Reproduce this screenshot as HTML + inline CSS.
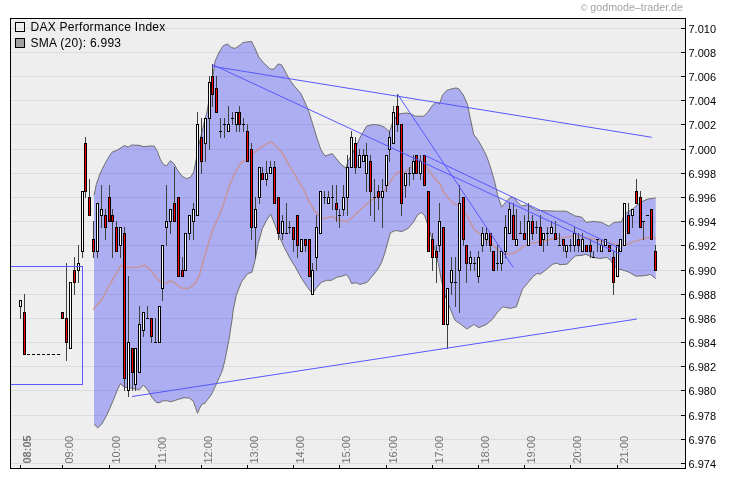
<!DOCTYPE html><html><head><meta charset="utf-8"><title>DAX Performance Index</title><style>html,body{margin:0;padding:0;background:#fff}body{width:730px;height:481px;position:relative;overflow:hidden}</style></head><body><svg width="730" height="481" viewBox="0 0 730 481" style="position:absolute;left:0;top:0">
<rect x="10" y="18" width="676" height="451" fill="#eeeeee"/>
<g fill="#dcdcdc" shape-rendering="crispEdges"><rect x="11" y="28" width="674" height="1"/><rect x="11" y="52" width="674" height="1"/><rect x="11" y="76" width="674" height="1"/><rect x="11" y="100" width="674" height="1"/><rect x="11" y="124" width="674" height="1"/><rect x="11" y="149" width="674" height="1"/><rect x="11" y="173" width="674" height="1"/><rect x="11" y="197" width="674" height="1"/><rect x="11" y="221" width="674" height="1"/><rect x="11" y="245" width="674" height="1"/><rect x="11" y="270" width="674" height="1"/><rect x="11" y="294" width="674" height="1"/><rect x="11" y="318" width="674" height="1"/><rect x="11" y="342" width="674" height="1"/><rect x="11" y="366" width="674" height="1"/><rect x="11" y="390" width="674" height="1"/><rect x="11" y="415" width="674" height="1"/><rect x="11" y="439" width="674" height="1"/><rect x="11" y="463" width="674" height="1"/></g>
<polygon points="94.0,195.3 96.3,184.5 99.5,175.0 102.6,168.3 107.8,158.5 112.0,152.2 117.1,150.2 124.4,145.6 128.2,147.0 131.7,145.0 140.0,145.4 143.1,146.6 150.0,146.0 154.2,146.0 157.3,151.2 160.4,159.5 163.5,164.7 166.6,165.8 170.4,160.6 173.9,163.7 178.1,171.0 182.2,176.2 186.4,178.7 190.6,177.2 193.7,172.0 195.8,161.6 198.9,145.0 202.0,132.0 204.5,121.0 206.8,113.0 209.5,97.0 212.0,82.0 215.1,61.2 219.3,51.8 223.4,45.6 227.6,44.1 231.8,47.7 235.3,48.3 240.1,45.0 243.2,42.5 251.5,41.4 254.7,47.7 258.8,57.0 264.0,63.3 270.3,69.1 274.0,69.1 278.2,63.9 281.7,65.0 284.8,70.6 289.0,78.9 295.2,87.2 300.5,93.0 304.2,100.6 308.3,110.0 312.5,123.4 316.6,137.0 320.8,149.5 325.0,156.1 332.2,153.6 336.4,158.8 340.6,163.9 345.8,168.1 348.3,160.8 356.2,146.3 360.3,137.0 366.6,126.2 372.8,124.5 379.0,125.0 384.3,127.0 389.5,131.8 392.6,122.4 397.8,114.1 406.1,113.0 410.3,113.7 415.5,116.2 423.8,116.2 427.9,112.0 432.1,105.8 436.3,102.2 439.4,104.1 442.5,95.2 446.6,90.4 450.8,89.1 456.0,87.9 459.1,89.1 463.3,95.0 467.4,104.3 470.6,119.9 473.7,134.5 477.8,139.7 482.0,147.0 486.2,155.3 489.3,163.6 491.5,170.7 494.6,181.5 497.5,194.8 501.6,207.2 505.9,201.8 510.1,197.7 513.2,197.1 517.4,201.8 521.5,206.0 527.8,205.0 536.1,210.2 546.5,210.8 556.9,211.2 566.3,211.2 574.6,215.8 581.8,217.2 586.0,222.4 593.3,221.4 601.6,222.4 608.9,226.2 614.1,222.4 621.4,221.8 624.5,214.1 632.8,208.9 640.1,202.6 647.4,199.1 655.7,197.9 655.7,278.7 650.5,274.5 643.2,275.8 635.9,276.2 628.6,272.0 622.4,269.9 617.2,268.9 613.0,264.7 611.0,260.6 606.8,257.4 599.5,258.5 591.2,257.0 586.0,254.3 581.8,255.4 575.6,255.8 571.4,259.5 567.3,264.1 560.0,264.7 556.9,263.1 552.7,264.2 546.5,269.4 540.3,274.1 537.1,273.5 533.0,276.6 527.8,282.9 522.6,289.1 519.5,297.4 516.3,306.8 510.1,308.3 502.8,306.8 497.6,312.0 492.4,319.3 486.2,324.5 478.9,327.6 473.7,324.5 467.0,329.0 461.2,324.5 455.0,320.3 449.8,307.8 445.0,295.0 441.4,280.0 438.3,263.2 435.6,252.0 432.0,239.0 429.0,229.0 426.9,222.0 424.8,215.9 421.7,212.4 417.5,214.9 413.4,222.2 408.2,228.4 401.9,231.5 395.7,230.5 390.5,232.6 388.4,240.0 384.7,253.3 381.5,262.6 377.4,269.9 372.2,276.2 367.0,282.4 359.7,284.5 356.6,282.8 351.4,283.4 349.3,278.2 346.2,274.5 342.0,276.2 336.8,277.2 331.6,280.3 326.4,280.3 321.2,282.4 316.0,288.6 312.5,293.8 307.7,287.6 301.4,278.2 295.2,266.8 290.0,258.5 284.2,247.4 280.0,238.0 274.8,224.6 270.7,214.2 266.5,220.4 262.3,228.7 258.2,243.3 255.1,260.0 251.9,272.4 247.8,273.5 241.5,281.8 236.3,295.3 233.2,310.0 232.2,318.7 229.0,339.5 224.9,360.3 222.5,370.0 219.4,377.3 215.2,386.6 211.1,395.0 207.9,399.1 204.8,403.3 201.7,404.3 199.6,408.5 197.5,413.3 195.5,407.4 193.4,401.2 189.2,398.1 184.0,397.7 177.8,399.5 170.5,401.8 167.4,400.8 163.2,400.8 159.0,402.9 155.9,402.2 151.8,397.0 147.6,389.8 143.4,385.0 139.3,389.8 136.2,389.1 132.0,388.3 123.7,387.0 120.6,383.5 117.4,389.8 113.3,400.2 107.0,414.7 101.8,424.1 97.7,427.8 94.0,424.2" fill="rgba(0,0,255,0.27)"/>
<polyline points="94.0,195.3 96.3,184.5 99.5,175.0 102.6,168.3 107.8,158.5 112.0,152.2 117.1,150.2 124.4,145.6 128.2,147.0 131.7,145.0 140.0,145.4 143.1,146.6 150.0,146.0 154.2,146.0 157.3,151.2 160.4,159.5 163.5,164.7 166.6,165.8 170.4,160.6 173.9,163.7 178.1,171.0 182.2,176.2 186.4,178.7 190.6,177.2 193.7,172.0 195.8,161.6 198.9,145.0 202.0,132.0 204.5,121.0 206.8,113.0 209.5,97.0 212.0,82.0 215.1,61.2 219.3,51.8 223.4,45.6 227.6,44.1 231.8,47.7 235.3,48.3 240.1,45.0 243.2,42.5 251.5,41.4 254.7,47.7 258.8,57.0 264.0,63.3 270.3,69.1 274.0,69.1 278.2,63.9 281.7,65.0 284.8,70.6 289.0,78.9 295.2,87.2 300.5,93.0 304.2,100.6 308.3,110.0 312.5,123.4 316.6,137.0 320.8,149.5 325.0,156.1 332.2,153.6 336.4,158.8 340.6,163.9 345.8,168.1 348.3,160.8 356.2,146.3 360.3,137.0 366.6,126.2 372.8,124.5 379.0,125.0 384.3,127.0 389.5,131.8 392.6,122.4 397.8,114.1 406.1,113.0 410.3,113.7 415.5,116.2 423.8,116.2 427.9,112.0 432.1,105.8 436.3,102.2 439.4,104.1 442.5,95.2 446.6,90.4 450.8,89.1 456.0,87.9 459.1,89.1 463.3,95.0 467.4,104.3 470.6,119.9 473.7,134.5 477.8,139.7 482.0,147.0 486.2,155.3 489.3,163.6 491.5,170.7 494.6,181.5 497.5,194.8 501.6,207.2 505.9,201.8 510.1,197.7 513.2,197.1 517.4,201.8 521.5,206.0 527.8,205.0 536.1,210.2 546.5,210.8 556.9,211.2 566.3,211.2 574.6,215.8 581.8,217.2 586.0,222.4 593.3,221.4 601.6,222.4 608.9,226.2 614.1,222.4 621.4,221.8 624.5,214.1 632.8,208.9 640.1,202.6 647.4,199.1 655.7,197.9" fill="none" stroke="#6e6e6e" stroke-width="1"/>
<polyline points="655.7,278.7 650.5,274.5 643.2,275.8 635.9,276.2 628.6,272.0 622.4,269.9 617.2,268.9 613.0,264.7 611.0,260.6 606.8,257.4 599.5,258.5 591.2,257.0 586.0,254.3 581.8,255.4 575.6,255.8 571.4,259.5 567.3,264.1 560.0,264.7 556.9,263.1 552.7,264.2 546.5,269.4 540.3,274.1 537.1,273.5 533.0,276.6 527.8,282.9 522.6,289.1 519.5,297.4 516.3,306.8 510.1,308.3 502.8,306.8 497.6,312.0 492.4,319.3 486.2,324.5 478.9,327.6 473.7,324.5 467.0,329.0 461.2,324.5 455.0,320.3 449.8,307.8 445.0,295.0 441.4,280.0 438.3,263.2 435.6,252.0 432.0,239.0 429.0,229.0 426.9,222.0 424.8,215.9 421.7,212.4 417.5,214.9 413.4,222.2 408.2,228.4 401.9,231.5 395.7,230.5 390.5,232.6 388.4,240.0 384.7,253.3 381.5,262.6 377.4,269.9 372.2,276.2 367.0,282.4 359.7,284.5 356.6,282.8 351.4,283.4 349.3,278.2 346.2,274.5 342.0,276.2 336.8,277.2 331.6,280.3 326.4,280.3 321.2,282.4 316.0,288.6 312.5,293.8 307.7,287.6 301.4,278.2 295.2,266.8 290.0,258.5 284.2,247.4 280.0,238.0 274.8,224.6 270.7,214.2 266.5,220.4 262.3,228.7 258.2,243.3 255.1,260.0 251.9,272.4 247.8,273.5 241.5,281.8 236.3,295.3 233.2,310.0 232.2,318.7 229.0,339.5 224.9,360.3 222.5,370.0 219.4,377.3 215.2,386.6 211.1,395.0 207.9,399.1 204.8,403.3 201.7,404.3 199.6,408.5 197.5,413.3 195.5,407.4 193.4,401.2 189.2,398.1 184.0,397.7 177.8,399.5 170.5,401.8 167.4,400.8 163.2,400.8 159.0,402.9 155.9,402.2 151.8,397.0 147.6,389.8 143.4,385.0 139.3,389.8 136.2,389.1 132.0,388.3 123.7,387.0 120.6,383.5 117.4,389.8 113.3,400.2 107.0,414.7 101.8,424.1 97.7,427.8 94.0,424.2" fill="none" stroke="#6e6e6e" stroke-width="1"/>
<polyline points="93.2,309.5 101.5,300.0 109.9,284.5 116.1,274.0 120.3,266.2 123.4,265.4 126.5,267.2 134.8,267.4 140.0,266.8 144.2,265.4 148.3,267.8 153.5,273.7 155.2,276.6 160.4,281.8 165.6,283.2 170.8,280.7 176.0,283.9 181.2,288.0 188.5,288.6 193.7,284.9 198.9,276.6 203.0,262.0 207.2,247.4 212.4,230.8 216.6,221.5 221.8,208.8 225.9,196.4 230.1,183.9 235.3,171.9 241.5,162.6 247.8,158.0 254.0,152.7 261.3,147.2 270.6,141.6 276.9,147.0 283.1,154.3 289.4,165.8 295.6,176.2 300.0,183.7 304.2,191.0 309.4,202.4 314.6,210.7 319.8,216.6 323.9,218.6 331.2,216.6 339.5,220.1 346.8,221.8 353.0,217.0 360.3,209.7 368.6,202.4 377.0,196.2 383.2,192.0 388.4,184.7 393.6,176.4 397.8,172.2 404.0,172.2 408.3,169.9 413.3,164.9 416.6,160.7 423.3,160.7 427.4,168.2 433.2,176.5 439.9,184.0 443.2,191.5 448.2,198.1 453.2,203.1 459.1,206.0 467.4,216.4 473.7,228.9 482.0,236.2 490.3,242.4 498.6,250.7 505.9,254.5 515.3,252.8 521.5,247.6 529.9,243.5 538.2,242.0 546.5,240.3 554.8,238.2 563.1,237.8 571.5,236.2 576.6,235.9 585.0,237.4 593.3,239.0 601.6,241.1 609.9,243.2 618.2,244.9 626.6,244.3 634.9,241.1 643.2,239.0 651.5,237.0 655.7,238.6" fill="none" stroke="#c6959d" stroke-width="1.5"/>
<g shape-rendering="crispEdges"><g fill="#404040"><rect x="20" y="300" width="1" height="19"/><rect x="24" y="294" width="1" height="61"/><rect x="62" y="312" width="1" height="7"/><rect x="66" y="263" width="1" height="98"/><rect x="70" y="282" width="1" height="67"/><rect x="74" y="257" width="1" height="38"/><rect x="78" y="245" width="1" height="38"/><rect x="82" y="191" width="1" height="67"/><rect x="85" y="137" width="1" height="61"/><rect x="89" y="179" width="1" height="37"/><rect x="93" y="221" width="1" height="37"/><rect x="97" y="203" width="1" height="55"/><rect x="101" y="185" width="1" height="43"/><rect x="105" y="209" width="1" height="31"/><rect x="109" y="185" width="1" height="37"/><rect x="112" y="209" width="1" height="49"/><rect x="116" y="221" width="1" height="31"/><rect x="120" y="227" width="1" height="31"/><rect x="124" y="227" width="1" height="164"/><rect x="128" y="276" width="1" height="121"/><rect x="132" y="348" width="1" height="43"/><rect x="135" y="348" width="1" height="43"/><rect x="139" y="306" width="1" height="67"/><rect x="143" y="312" width="1" height="25"/><rect x="147" y="306" width="1" height="13"/><rect x="151" y="318" width="1" height="25"/><rect x="155" y="318" width="1" height="25"/><rect x="159" y="306" width="1" height="37"/><rect x="162" y="245" width="1" height="56"/><rect x="166" y="185" width="1" height="61"/><rect x="170" y="209" width="1" height="25"/><rect x="174" y="167" width="1" height="55"/><rect x="178" y="197" width="1" height="80"/><rect x="182" y="257" width="1" height="20"/><rect x="185" y="233" width="1" height="38"/><rect x="189" y="215" width="1" height="25"/><rect x="193" y="203" width="1" height="37"/><rect x="197" y="112" width="1" height="104"/><rect x="201" y="118" width="1" height="56"/><rect x="205" y="118" width="1" height="44"/><rect x="209" y="76" width="1" height="74"/><rect x="212" y="64" width="1" height="43"/><rect x="216" y="76" width="1" height="37"/><rect x="220" y="118" width="1" height="20"/><rect x="224" y="118" width="1" height="20"/><rect x="228" y="106" width="1" height="26"/><rect x="232" y="112" width="1" height="13"/><rect x="236" y="112" width="1" height="20"/><rect x="239" y="106" width="1" height="26"/><rect x="243" y="118" width="1" height="14"/><rect x="247" y="124" width="1" height="38"/><rect x="251" y="143" width="1" height="97"/><rect x="255" y="197" width="1" height="61"/><rect x="259" y="167" width="1" height="37"/><rect x="262" y="167" width="1" height="13"/><rect x="266" y="161" width="1" height="25"/><rect x="270" y="161" width="1" height="13"/><rect x="274" y="161" width="1" height="43"/><rect x="278" y="197" width="1" height="43"/><rect x="282" y="215" width="1" height="25"/><rect x="286" y="203" width="1" height="31"/><rect x="289" y="221" width="1" height="13"/><rect x="293" y="227" width="1" height="25"/><rect x="297" y="215" width="1" height="43"/><rect x="301" y="239" width="1" height="13"/><rect x="305" y="239" width="1" height="13"/><rect x="309" y="239" width="1" height="38"/><rect x="312" y="263" width="1" height="32"/><rect x="316" y="215" width="1" height="56"/><rect x="320" y="191" width="1" height="43"/><rect x="324" y="191" width="1" height="13"/><rect x="328" y="191" width="1" height="13"/><rect x="332" y="185" width="1" height="25"/><rect x="336" y="185" width="1" height="37"/><rect x="339" y="209" width="1" height="19"/><rect x="343" y="185" width="1" height="31"/><rect x="347" y="155" width="1" height="61"/><rect x="351" y="131" width="1" height="37"/><rect x="355" y="137" width="1" height="37"/><rect x="359" y="149" width="1" height="19"/><rect x="363" y="149" width="1" height="13"/><rect x="366" y="143" width="1" height="49"/><rect x="370" y="155" width="1" height="61"/><rect x="374" y="179" width="1" height="43"/><rect x="378" y="185" width="1" height="25"/><rect x="382" y="179" width="1" height="49"/><rect x="386" y="155" width="1" height="37"/><rect x="389" y="131" width="1" height="31"/><rect x="393" y="106" width="1" height="38"/><rect x="397" y="94" width="1" height="38"/><rect x="401" y="124" width="1" height="92"/><rect x="405" y="173" width="1" height="25"/><rect x="409" y="167" width="1" height="19"/><rect x="413" y="155" width="1" height="25"/><rect x="416" y="155" width="1" height="19"/><rect x="420" y="155" width="1" height="25"/><rect x="424" y="155" width="1" height="31"/><rect x="428" y="191" width="1" height="61"/><rect x="432" y="233" width="1" height="38"/><rect x="436" y="245" width="1" height="38"/><rect x="439" y="203" width="1" height="49"/><rect x="443" y="227" width="1" height="98"/><rect x="447" y="288" width="1" height="61"/><rect x="451" y="257" width="1" height="38"/><rect x="455" y="257" width="1" height="50"/><rect x="459" y="185" width="1" height="128"/><rect x="463" y="197" width="1" height="49"/><rect x="466" y="245" width="1" height="38"/><rect x="470" y="251" width="1" height="20"/><rect x="474" y="257" width="1" height="14"/><rect x="478" y="251" width="1" height="32"/><rect x="482" y="227" width="1" height="25"/><rect x="486" y="227" width="1" height="19"/><rect x="490" y="233" width="1" height="19"/><rect x="493" y="251" width="1" height="20"/><rect x="497" y="245" width="1" height="26"/><rect x="501" y="251" width="1" height="20"/><rect x="505" y="215" width="1" height="43"/><rect x="509" y="203" width="1" height="31"/><rect x="513" y="203" width="1" height="37"/><rect x="516" y="209" width="1" height="37"/><rect x="520" y="221" width="1" height="13"/><rect x="524" y="215" width="1" height="25"/><rect x="528" y="203" width="1" height="43"/><rect x="532" y="215" width="1" height="25"/><rect x="536" y="221" width="1" height="13"/><rect x="540" y="215" width="1" height="31"/><rect x="543" y="233" width="1" height="19"/><rect x="547" y="227" width="1" height="19"/><rect x="551" y="221" width="1" height="13"/><rect x="555" y="221" width="1" height="19"/><rect x="559" y="233" width="1" height="13"/><rect x="563" y="239" width="1" height="13"/><rect x="566" y="245" width="1" height="13"/><rect x="570" y="239" width="1" height="13"/><rect x="574" y="227" width="1" height="25"/><rect x="578" y="233" width="1" height="19"/><rect x="582" y="233" width="1" height="19"/><rect x="586" y="245" width="1" height="7"/><rect x="590" y="239" width="1" height="19"/><rect x="593" y="251" width="1" height="7"/><rect x="597" y="239" width="1" height="13"/><rect x="601" y="239" width="1" height="13"/><rect x="605" y="239" width="1" height="7"/><rect x="609" y="245" width="1" height="7"/><rect x="613" y="251" width="1" height="44"/><rect x="617" y="245" width="1" height="32"/><rect x="620" y="239" width="1" height="13"/><rect x="624" y="203" width="1" height="43"/><rect x="628" y="203" width="1" height="31"/><rect x="632" y="209" width="1" height="19"/><rect x="636" y="179" width="1" height="25"/><rect x="640" y="191" width="1" height="37"/><rect x="643" y="221" width="1" height="19"/><rect x="647" y="215" width="1" height="1"/><rect x="651" y="209" width="1" height="31"/><rect x="655" y="245" width="1" height="26"/></g><g fill="#000"><rect x="19" y="300" width="3" height="7"/><rect x="23" y="312" width="3" height="43"/><rect x="61" y="312" width="3" height="7"/><rect x="65" y="318" width="3" height="25"/><rect x="69" y="282" width="3" height="67"/><rect x="73" y="270" width="3" height="13"/><rect x="77" y="263" width="3" height="8"/><rect x="81" y="191" width="3" height="61"/><rect x="84" y="143" width="3" height="49"/><rect x="88" y="197" width="3" height="19"/><rect x="92" y="239" width="3" height="13"/><rect x="96" y="203" width="3" height="49"/><rect x="100" y="209" width="3" height="7"/><rect x="104" y="215" width="3" height="13"/><rect x="108" y="197" width="3" height="25"/><rect x="111" y="215" width="3" height="7"/><rect x="115" y="227" width="3" height="25"/><rect x="119" y="227" width="3" height="19"/><rect x="123" y="233" width="3" height="146"/><rect x="127" y="342" width="3" height="49"/><rect x="131" y="348" width="3" height="25"/><rect x="134" y="348" width="3" height="37"/><rect x="138" y="324" width="3" height="49"/><rect x="142" y="312" width="3" height="19"/><rect x="146" y="318" width="3" height="1"/><rect x="150" y="318" width="3" height="19"/><rect x="154" y="342" width="3" height="1"/><rect x="158" y="306" width="3" height="37"/><rect x="161" y="245" width="3" height="44"/><rect x="165" y="221" width="3" height="7"/><rect x="169" y="209" width="3" height="13"/><rect x="173" y="203" width="3" height="19"/><rect x="177" y="197" width="3" height="80"/><rect x="181" y="270" width="3" height="7"/><rect x="184" y="233" width="3" height="38"/><rect x="188" y="215" width="3" height="19"/><rect x="192" y="209" width="3" height="13"/><rect x="196" y="124" width="3" height="92"/><rect x="200" y="137" width="3" height="25"/><rect x="204" y="118" width="3" height="26"/><rect x="208" y="82" width="3" height="37"/><rect x="211" y="76" width="3" height="19"/><rect x="215" y="88" width="3" height="25"/><rect x="219" y="131" width="3" height="1"/><rect x="223" y="124" width="3" height="1"/><rect x="227" y="124" width="3" height="8"/><rect x="231" y="118" width="3" height="1"/><rect x="235" y="112" width="3" height="13"/><rect x="238" y="112" width="3" height="13"/><rect x="242" y="124" width="3" height="1"/><rect x="246" y="131" width="3" height="31"/><rect x="250" y="149" width="3" height="79"/><rect x="254" y="209" width="3" height="19"/><rect x="258" y="167" width="3" height="31"/><rect x="261" y="173" width="3" height="7"/><rect x="265" y="173" width="3" height="7"/><rect x="269" y="167" width="3" height="7"/><rect x="273" y="167" width="3" height="37"/><rect x="277" y="197" width="3" height="37"/><rect x="281" y="221" width="3" height="13"/><rect x="285" y="233" width="3" height="1"/><rect x="288" y="227" width="3" height="1"/><rect x="292" y="227" width="3" height="13"/><rect x="296" y="215" width="3" height="31"/><rect x="300" y="239" width="3" height="13"/><rect x="304" y="239" width="3" height="7"/><rect x="308" y="239" width="3" height="38"/><rect x="311" y="270" width="3" height="25"/><rect x="315" y="227" width="3" height="31"/><rect x="319" y="191" width="3" height="43"/><rect x="323" y="197" width="3" height="1"/><rect x="327" y="197" width="3" height="7"/><rect x="331" y="197" width="3" height="1"/><rect x="335" y="203" width="3" height="7"/><rect x="338" y="215" width="3" height="1"/><rect x="342" y="197" width="3" height="13"/><rect x="346" y="167" width="3" height="31"/><rect x="350" y="137" width="3" height="31"/><rect x="354" y="143" width="3" height="25"/><rect x="358" y="155" width="3" height="13"/><rect x="362" y="155" width="3" height="7"/><rect x="365" y="155" width="3" height="19"/><rect x="369" y="161" width="3" height="31"/><rect x="373" y="197" width="3" height="1"/><rect x="377" y="191" width="3" height="7"/><rect x="381" y="191" width="3" height="7"/><rect x="385" y="155" width="3" height="31"/><rect x="388" y="137" width="3" height="13"/><rect x="392" y="112" width="3" height="32"/><rect x="396" y="106" width="3" height="19"/><rect x="400" y="124" width="3" height="80"/><rect x="404" y="173" width="3" height="13"/><rect x="408" y="173" width="3" height="1"/><rect x="412" y="161" width="3" height="13"/><rect x="415" y="155" width="3" height="19"/><rect x="419" y="161" width="3" height="13"/><rect x="423" y="155" width="3" height="31"/><rect x="427" y="191" width="3" height="61"/><rect x="431" y="239" width="3" height="19"/><rect x="435" y="251" width="3" height="7"/><rect x="438" y="221" width="3" height="25"/><rect x="442" y="227" width="3" height="98"/><rect x="446" y="288" width="3" height="37"/><rect x="450" y="270" width="3" height="13"/><rect x="454" y="282" width="3" height="1"/><rect x="458" y="203" width="3" height="68"/><rect x="462" y="197" width="3" height="43"/><rect x="465" y="245" width="3" height="19"/><rect x="469" y="257" width="3" height="7"/><rect x="473" y="263" width="3" height="1"/><rect x="477" y="257" width="3" height="20"/><rect x="481" y="233" width="3" height="13"/><rect x="485" y="233" width="3" height="7"/><rect x="489" y="233" width="3" height="13"/><rect x="492" y="251" width="3" height="20"/><rect x="496" y="263" width="3" height="1"/><rect x="500" y="251" width="3" height="13"/><rect x="504" y="227" width="3" height="25"/><rect x="508" y="209" width="3" height="25"/><rect x="512" y="215" width="3" height="25"/><rect x="515" y="239" width="3" height="7"/><rect x="519" y="233" width="3" height="1"/><rect x="523" y="233" width="3" height="7"/><rect x="527" y="221" width="3" height="25"/><rect x="531" y="221" width="3" height="13"/><rect x="535" y="227" width="3" height="1"/><rect x="539" y="227" width="3" height="19"/><rect x="542" y="233" width="3" height="7"/><rect x="546" y="233" width="3" height="1"/><rect x="550" y="227" width="3" height="7"/><rect x="554" y="233" width="3" height="7"/><rect x="558" y="245" width="3" height="1"/><rect x="562" y="239" width="3" height="7"/><rect x="565" y="245" width="3" height="7"/><rect x="569" y="245" width="3" height="1"/><rect x="573" y="233" width="3" height="13"/><rect x="577" y="239" width="3" height="7"/><rect x="581" y="239" width="3" height="13"/><rect x="585" y="245" width="3" height="7"/><rect x="589" y="245" width="3" height="7"/><rect x="592" y="257" width="3" height="1"/><rect x="596" y="239" width="3" height="1"/><rect x="600" y="245" width="3" height="7"/><rect x="604" y="239" width="3" height="7"/><rect x="608" y="245" width="3" height="7"/><rect x="612" y="257" width="3" height="26"/><rect x="616" y="245" width="3" height="32"/><rect x="619" y="239" width="3" height="13"/><rect x="623" y="203" width="3" height="43"/><rect x="627" y="215" width="3" height="19"/><rect x="631" y="209" width="3" height="7"/><rect x="635" y="191" width="3" height="13"/><rect x="639" y="197" width="3" height="31"/><rect x="642" y="221" width="3" height="1"/><rect x="646" y="215" width="3" height="1"/><rect x="650" y="209" width="3" height="31"/><rect x="654" y="251" width="3" height="20"/></g><g fill="#fff"><rect x="20" y="301" width="1" height="5"/><rect x="70" y="283" width="1" height="65"/><rect x="78" y="264" width="1" height="6"/><rect x="82" y="192" width="1" height="59"/><rect x="97" y="204" width="1" height="47"/><rect x="101" y="210" width="1" height="5"/><rect x="120" y="228" width="1" height="17"/><rect x="128" y="343" width="1" height="47"/><rect x="135" y="349" width="1" height="35"/><rect x="139" y="325" width="1" height="47"/><rect x="143" y="313" width="1" height="17"/><rect x="159" y="307" width="1" height="35"/><rect x="162" y="246" width="1" height="42"/><rect x="166" y="222" width="1" height="5"/><rect x="170" y="210" width="1" height="11"/><rect x="185" y="234" width="1" height="36"/><rect x="189" y="216" width="1" height="17"/><rect x="193" y="210" width="1" height="11"/><rect x="197" y="125" width="1" height="90"/><rect x="205" y="119" width="1" height="24"/><rect x="209" y="83" width="1" height="35"/><rect x="228" y="125" width="1" height="6"/><rect x="236" y="113" width="1" height="11"/><rect x="255" y="210" width="1" height="17"/><rect x="259" y="168" width="1" height="29"/><rect x="266" y="174" width="1" height="5"/><rect x="270" y="168" width="1" height="5"/><rect x="282" y="222" width="1" height="11"/><rect x="301" y="240" width="1" height="11"/><rect x="312" y="271" width="1" height="23"/><rect x="316" y="228" width="1" height="29"/><rect x="320" y="192" width="1" height="41"/><rect x="328" y="198" width="1" height="5"/><rect x="343" y="198" width="1" height="11"/><rect x="347" y="168" width="1" height="29"/><rect x="351" y="138" width="1" height="29"/><rect x="359" y="156" width="1" height="11"/><rect x="363" y="156" width="1" height="5"/><rect x="366" y="156" width="1" height="17"/><rect x="382" y="192" width="1" height="5"/><rect x="386" y="156" width="1" height="29"/><rect x="389" y="138" width="1" height="11"/><rect x="393" y="113" width="1" height="30"/><rect x="405" y="174" width="1" height="11"/><rect x="413" y="162" width="1" height="11"/><rect x="420" y="162" width="1" height="11"/><rect x="439" y="222" width="1" height="23"/><rect x="447" y="289" width="1" height="35"/><rect x="451" y="271" width="1" height="11"/><rect x="459" y="204" width="1" height="66"/><rect x="470" y="258" width="1" height="5"/><rect x="478" y="258" width="1" height="18"/><rect x="482" y="234" width="1" height="11"/><rect x="486" y="234" width="1" height="5"/><rect x="501" y="252" width="1" height="11"/><rect x="505" y="228" width="1" height="23"/><rect x="509" y="210" width="1" height="23"/><rect x="516" y="240" width="1" height="5"/><rect x="528" y="222" width="1" height="23"/><rect x="543" y="234" width="1" height="5"/><rect x="551" y="228" width="1" height="5"/><rect x="566" y="246" width="1" height="5"/><rect x="574" y="234" width="1" height="11"/><rect x="582" y="240" width="1" height="11"/><rect x="601" y="246" width="1" height="5"/><rect x="605" y="240" width="1" height="5"/><rect x="617" y="246" width="1" height="30"/><rect x="620" y="240" width="1" height="11"/><rect x="624" y="204" width="1" height="41"/><rect x="632" y="210" width="1" height="5"/></g><g fill="#fa0000"><rect x="24" y="313" width="1" height="41"/><rect x="62" y="313" width="1" height="5"/><rect x="66" y="319" width="1" height="23"/><rect x="74" y="271" width="1" height="11"/><rect x="85" y="144" width="1" height="47"/><rect x="89" y="198" width="1" height="17"/><rect x="93" y="240" width="1" height="11"/><rect x="105" y="216" width="1" height="11"/><rect x="109" y="198" width="1" height="23"/><rect x="112" y="216" width="1" height="5"/><rect x="116" y="228" width="1" height="23"/><rect x="124" y="234" width="1" height="144"/><rect x="132" y="349" width="1" height="23"/><rect x="151" y="319" width="1" height="17"/><rect x="174" y="204" width="1" height="17"/><rect x="178" y="198" width="1" height="78"/><rect x="182" y="271" width="1" height="5"/><rect x="201" y="138" width="1" height="23"/><rect x="212" y="77" width="1" height="17"/><rect x="216" y="89" width="1" height="23"/><rect x="239" y="113" width="1" height="11"/><rect x="247" y="132" width="1" height="29"/><rect x="251" y="150" width="1" height="77"/><rect x="262" y="174" width="1" height="5"/><rect x="274" y="168" width="1" height="35"/><rect x="278" y="198" width="1" height="35"/><rect x="293" y="228" width="1" height="11"/><rect x="297" y="216" width="1" height="29"/><rect x="305" y="240" width="1" height="5"/><rect x="309" y="240" width="1" height="36"/><rect x="336" y="204" width="1" height="5"/><rect x="355" y="144" width="1" height="23"/><rect x="370" y="162" width="1" height="29"/><rect x="378" y="192" width="1" height="5"/><rect x="397" y="107" width="1" height="17"/><rect x="401" y="125" width="1" height="78"/><rect x="416" y="156" width="1" height="17"/><rect x="424" y="156" width="1" height="29"/><rect x="428" y="192" width="1" height="59"/><rect x="432" y="240" width="1" height="17"/><rect x="436" y="252" width="1" height="5"/><rect x="443" y="228" width="1" height="96"/><rect x="463" y="198" width="1" height="41"/><rect x="466" y="246" width="1" height="17"/><rect x="490" y="234" width="1" height="11"/><rect x="493" y="252" width="1" height="18"/><rect x="513" y="216" width="1" height="23"/><rect x="524" y="234" width="1" height="5"/><rect x="532" y="222" width="1" height="11"/><rect x="540" y="228" width="1" height="17"/><rect x="555" y="234" width="1" height="5"/><rect x="563" y="240" width="1" height="5"/><rect x="578" y="240" width="1" height="5"/><rect x="586" y="246" width="1" height="5"/><rect x="590" y="246" width="1" height="5"/><rect x="609" y="246" width="1" height="5"/><rect x="613" y="258" width="1" height="24"/><rect x="628" y="216" width="1" height="17"/><rect x="636" y="192" width="1" height="11"/><rect x="640" y="198" width="1" height="29"/><rect x="651" y="210" width="1" height="29"/><rect x="655" y="252" width="1" height="18"/></g></g>
<g fill="#000" shape-rendering="crispEdges"><rect x="27" y="354" width="3" height="1"/><rect x="32" y="354" width="3" height="1"/><rect x="37" y="354" width="3" height="1"/><rect x="42" y="354" width="3" height="1"/><rect x="47" y="354" width="3" height="1"/><rect x="52" y="354" width="3" height="1"/><rect x="57" y="354" width="3" height="1"/></g>
<g stroke="#5858ff" stroke-width="1" fill="none">
<line x1="212.5" y1="66.3" x2="651.8" y2="137.3"/>
<line x1="212.5" y1="64.6" x2="620.4" y2="254.1"/>
<line x1="424.9" y1="155.3" x2="620.4" y2="248.6"/>
<line x1="397.4" y1="93.9" x2="513.2" y2="267.4"/>
<line x1="132.0" y1="396.5" x2="637.0" y2="319.0"/>
<polyline points="10.5,266.5 82.5,266.5 82.5,384.5 10.5,384.5" shape-rendering="crispEdges"/>
</g>
<g fill="#000" shape-rendering="crispEdges"><rect x="10" y="18" width="676" height="1"/><rect x="10" y="18" width="1" height="451"/><rect x="685" y="18" width="1" height="451"/><rect x="10" y="468" width="676" height="1"/><rect x="681" y="28" width="5" height="1"/><rect x="681" y="52" width="5" height="1"/><rect x="681" y="76" width="5" height="1"/><rect x="681" y="100" width="5" height="1"/><rect x="681" y="124" width="5" height="1"/><rect x="681" y="149" width="5" height="1"/><rect x="681" y="173" width="5" height="1"/><rect x="681" y="197" width="5" height="1"/><rect x="681" y="221" width="5" height="1"/><rect x="681" y="245" width="5" height="1"/><rect x="681" y="270" width="5" height="1"/><rect x="681" y="294" width="5" height="1"/><rect x="681" y="318" width="5" height="1"/><rect x="681" y="342" width="5" height="1"/><rect x="681" y="366" width="5" height="1"/><rect x="681" y="390" width="5" height="1"/><rect x="681" y="415" width="5" height="1"/><rect x="681" y="439" width="5" height="1"/><rect x="681" y="463" width="5" height="1"/><rect x="62" y="465" width="1" height="4"/><rect x="109" y="465" width="1" height="4"/><rect x="155" y="465" width="1" height="4"/><rect x="201" y="465" width="1" height="4"/><rect x="247" y="465" width="1" height="4"/><rect x="293" y="465" width="1" height="4"/><rect x="339" y="465" width="1" height="4"/><rect x="386" y="465" width="1" height="4"/><rect x="432" y="465" width="1" height="4"/><rect x="478" y="465" width="1" height="4"/><rect x="524" y="465" width="1" height="4"/><rect x="570" y="465" width="1" height="4"/><rect x="617" y="465" width="1" height="4"/><rect x="20" y="465" width="1" height="4"/></g>
<g shape-rendering="crispEdges"><rect x="15.5" y="22.5" width="9" height="9" fill="none" stroke="#000"/><rect x="15.5" y="38.5" width="9" height="9" fill="#a0a0a0" stroke="#000"/></g>
<g font-family="Liberation Sans, Arial, sans-serif" fill="#000">
<text x="30.5" y="31" font-size="12" letter-spacing="0.27">DAX Performance Index</text>
<text x="30.5" y="47" font-size="12" letter-spacing="0.27">SMA (20): 6.993</text>
<text x="688.5" y="33" font-size="11">7.010</text>
<text x="688.5" y="57" font-size="11">7.008</text>
<text x="688.5" y="81" font-size="11">7.006</text>
<text x="688.5" y="105" font-size="11">7.004</text>
<text x="688.5" y="129" font-size="11">7.002</text>
<text x="688.5" y="154" font-size="11">7.000</text>
<text x="688.5" y="178" font-size="11">6.998</text>
<text x="688.5" y="202" font-size="11">6.996</text>
<text x="688.5" y="226" font-size="11">6.994</text>
<text x="688.5" y="250" font-size="11">6.992</text>
<text x="688.5" y="275" font-size="11">6.990</text>
<text x="688.5" y="299" font-size="11">6.988</text>
<text x="688.5" y="323" font-size="11">6.986</text>
<text x="688.5" y="347" font-size="11">6.984</text>
<text x="688.5" y="371" font-size="11">6.982</text>
<text x="688.5" y="395" font-size="11">6.980</text>
<text x="688.5" y="420" font-size="11">6.978</text>
<text x="688.5" y="444" font-size="11">6.976</text>
<text x="688.5" y="468" font-size="11">6.974</text>
</g>
<g font-family="Liberation Sans, Arial, sans-serif" fill="#747474" font-size="11">
<text transform="translate(73,463.5) rotate(-90)">09:00</text>
<text transform="translate(120,463.5) rotate(-90)">10:00</text>
<text transform="translate(166,463.5) rotate(-90)">11:00</text>
<text transform="translate(212,463.5) rotate(-90)">12:00</text>
<text transform="translate(258,463.5) rotate(-90)">13:00</text>
<text transform="translate(304,463.5) rotate(-90)">14:00</text>
<text transform="translate(350,463.5) rotate(-90)">15:00</text>
<text transform="translate(397,463.5) rotate(-90)">16:00</text>
<text transform="translate(443,463.5) rotate(-90)">17:00</text>
<text transform="translate(489,463.5) rotate(-90)">18:00</text>
<text transform="translate(535,463.5) rotate(-90)">19:00</text>
<text transform="translate(581,463.5) rotate(-90)">20:00</text>
<text transform="translate(628,463.5) rotate(-90)">21:00</text>
<text transform="translate(31,463.5) rotate(-90)" font-weight="bold">08:05</text>
</g>
<text x="683" y="10.5" text-anchor="end" font-family="Liberation Sans, Arial, sans-serif" font-size="10.7" fill="#a4a4a4"><tspan font-size="9">©</tspan> godmode‒trader.de</text>
</svg></body></html>
